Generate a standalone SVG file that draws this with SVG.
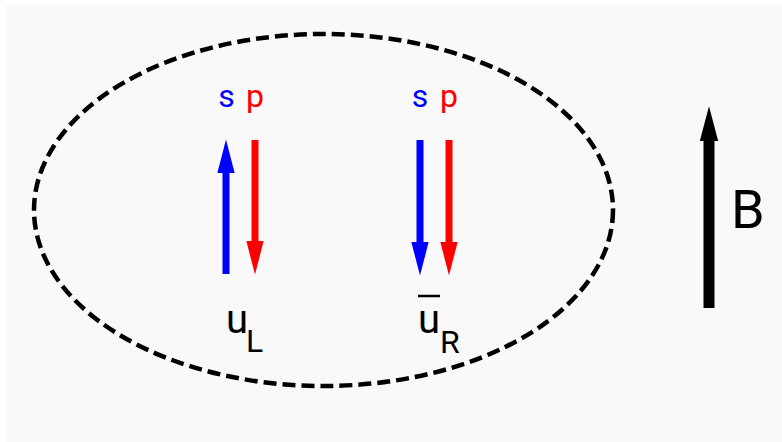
<svg xmlns="http://www.w3.org/2000/svg" width="782" height="442" viewBox="0 0 782 442">
<defs>
<style>
.lbl{font-family:Roboto,"Liberation Sans",sans-serif;}
.sm{font-size:32px;text-anchor:middle;}
.blue{fill:#0000ff;}
.red{fill:#ff0000;}
.blk{fill:#000;}
.shaft{stroke-width:7;fill:none;}
</style>
<marker id="hb" markerUnits="userSpaceOnUse" markerWidth="34" markerHeight="18" viewBox="0 0 33 17" refX="13" refY="8.5" orient="auto"><path d="M0,0 L33,8.5 L0,17 z" fill="#0000ff"/></marker>
<marker id="hr" markerUnits="userSpaceOnUse" markerWidth="34" markerHeight="18" viewBox="0 0 33 17" refX="13" refY="8.5" orient="auto"><path d="M0,0 L33,8.5 L0,17 z" fill="#ff0000"/></marker>
<marker id="hk" markerUnits="userSpaceOnUse" markerWidth="35" markerHeight="19" viewBox="0 0 34 18" refX="10" refY="9" orient="auto"><path d="M0,0 L34,9 L0,18 z" fill="#000"/></marker>
</defs>
<rect x="0" y="0" width="782" height="442" fill="#ffffff"/>
<rect x="6" y="5" width="776" height="437" fill="#f9f9f9"/>
<g id="region">
<ellipse cx="323.5" cy="210" rx="289.5" ry="176" fill="none" stroke="#000" stroke-width="4.5" stroke-dasharray="13,6"/>
</g>
<g id="connectors">
<line class="shaft" x1="226" y1="274" x2="226" y2="160" stroke="#0000ff" marker-end="url(#hb)"/>
<line class="shaft" x1="255" y1="140" x2="255" y2="254" stroke="#ff0000" marker-end="url(#hr)"/>
<line class="shaft" x1="420" y1="140" x2="420" y2="255" stroke="#0000ff" marker-end="url(#hb)"/>
<line class="shaft" x1="449" y1="140" x2="449" y2="255" stroke="#ff0000" marker-end="url(#hr)"/>
<line x1="709" y1="308" x2="709" y2="131" stroke="#000" stroke-width="11" marker-end="url(#hk)"/>
</g>
<g id="uL">
<text class="lbl sm blue" x="226.5" y="107">s</text>
<text class="lbl sm red" x="255" y="107">p</text>
<text class="lbl blk" x="226" y="333" font-size="40">u</text>
<text class="lbl blk" x="246" y="352" font-size="32">L</text>
</g>
<g id="uR">
<text class="lbl sm blue" x="420" y="107">s</text>
<text class="lbl sm red" x="449" y="107">p</text>
<line x1="418" y1="296" x2="440" y2="296" stroke="#000" stroke-width="2.5"/>
<text class="lbl blk" x="418" y="333" font-size="40">u</text>
<text class="lbl blk" x="440" y="353" font-size="32">R</text>
</g>
<g id="B">
<text class="lbl blk" x="731" y="228" font-size="54">B</text>
</g>
</svg>
